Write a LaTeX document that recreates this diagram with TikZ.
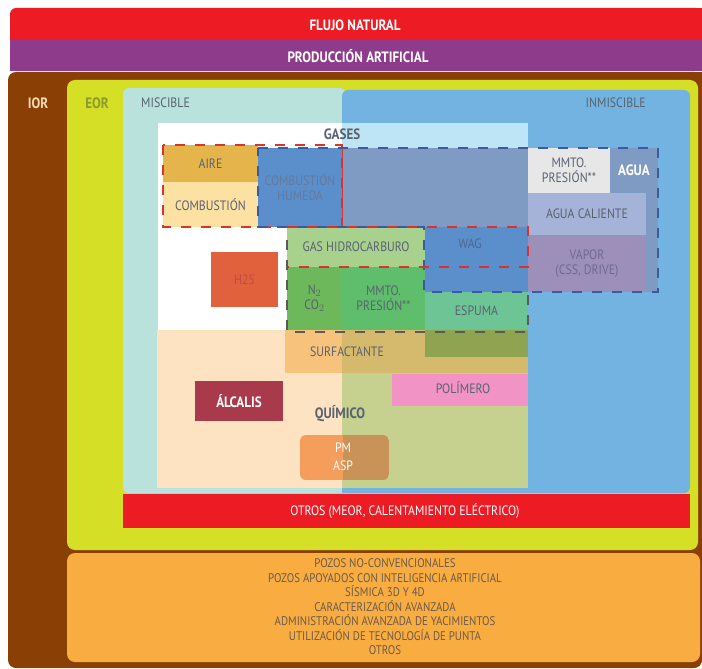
\documentclass[tikz,border=0pt]{standalone}
\usepackage{fontspec}
\setmainfont{PT Sans}[FakeStretch=0.87]
\begin{document}
\begin{tikzpicture}[x=1pt,y=-1pt,
  lbl/.style={inner sep=0pt, font=\fontsize{13.6}{15}\selectfont, text=cTxt, align=center},
  bl/.style={inner sep=0pt, font=\bfseries\fontsize{15}{16}\selectfont, align=center},
  blk/.style={anchor=north west, inner sep=0pt, outer sep=0pt, draw=none, font=\fontsize{13.6}{15}\selectfont, text=cTxt, align=center},
  rdash/.style={draw=cRedD, line width=1.4pt, dash pattern=on 10pt off 10pt},
  bdash/.style={draw=cBlueD, line width=1.4pt, dash pattern=on 10pt off 10pt},
  gdash/.style={draw=cGrayD, line width=1.4pt, dash pattern=on 10pt off 10pt}]
\definecolor{cRed}{HTML}{ED1C24}
\definecolor{cPurple}{HTML}{8E3B8B}
\definecolor{cBrown}{HTML}{8A4004}
\definecolor{cYel}{HTML}{D5DF26}
\definecolor{cTeal}{HTML}{B9E2DC}
\definecolor{cBlue}{HTML}{73B3E1}
\definecolor{cOrange}{HTML}{F9AC40}
\definecolor{cTxt}{HTML}{5A6270}
\definecolor{cLtBlue}{HTML}{BDE5F6}
\definecolor{cAire}{HTML}{E5B54C}
\definecolor{cComb}{HTML}{FDE1A2}
\definecolor{cHum}{HTML}{5A8FCB}
\definecolor{cGB}{HTML}{7F9BC4}
\definecolor{cMmto}{HTML}{E7E7E8}
\definecolor{cAguaC}{HTML}{A6B3D8}
\definecolor{cVapor}{HTML}{9C90BA}
\definecolor{cGasH}{HTML}{A9D18E}
\definecolor{cN}{HTML}{6CB85A}
\definecolor{cMmtoG}{HTML}{5EBE6C}
\definecolor{cEsp}{HTML}{6DC596}
\definecolor{cH}{HTML}{E0613C}
\definecolor{cPeach}{HTML}{FDE3C2}
\definecolor{cOlive}{HTML}{C6D190}
\definecolor{cSurfL}{HTML}{F7C27B}
\definecolor{cSurfR}{HTML}{D5B96C}
\definecolor{cDkOl}{HTML}{8FA450}
\definecolor{cPink}{HTML}{F194C5}
\definecolor{cAlc}{HTML}{A83A4B}
\definecolor{cPmL}{HTML}{F59D5B}
\definecolor{cPmR}{HTML}{C99358}
\definecolor{cRedD}{HTML}{D9342B}
\definecolor{cBlueD}{HTML}{3A5C9E}
\definecolor{cGrayD}{HTML}{5A5A5A}
\definecolor{cIOR}{HTML}{F6D9B8}
\definecolor{cEOR}{HTML}{8B9A2C}
\definecolor{cList}{HTML}{6A5B4E}
\definecolor{cHumT}{HTML}{66799C}
\definecolor{cWagT}{HTML}{4E6690}
\definecolor{cVapT}{HTML}{6E6A8E}

\useasboundingbox (0,0) rectangle (702,669);
\fill[white] (0,0) rectangle (702,669);

% outer bands
\fill[cRed, rounded corners=6pt] (10,8) rectangle (702,40);
\fill[cRed] (30,8) rectangle (702,40);
\fill[cRed] (10,20) rectangle (30,40);
\fill[cPurple] (10,40) rectangle (702,71);
\fill[cBrown, rounded corners=8pt] (8,72) rectangle (702,668);
\fill[cBrown] (30,72) rectangle (702,90);
\fill[cYel, rounded corners=8pt] (67,80) rectangle (698,550);
\fill[cTeal, rounded corners=6pt] (123,88) rectangle (346,493);
\fill[cBlue, rounded corners=6pt] (342,90) rectangle (690,493);
\fill[cBlue] (342,110) rectangle (360,493);
\fill[cOrange, rounded corners=8pt] (67,553) rectangle (700,662);

\node[bl, text=white] (flujo) at (355,25) {FLUJO NATURAL};
\node[bl, text=white] (prod) at (358,56) {PRODUCCIÓN ARTIFICIAL};
\node[bl, text=cIOR] (ior) at (38,103) {IOR};
\node[bl, text=cEOR] (eor) at (97,103) {EOR};
\node[lbl, anchor=west] (misc) at (141,103) {MISCIBLE};
\node[lbl, anchor=east] (inmisc) at (646,103) {INMISCIBLE};

% gases frame
\fill[white] (158,123) rectangle (342,330);
\fill[cLtBlue] (342,123) rectangle (528,148);
\node[bl, text=cTxt] (gases) at (342,134) {GASES};

% quimico area
\fill[cPeach] (157,330) rectangle (342,488);
\fill[cOlive] (342,330) rectangle (528,488);

% gas boxes
\node[blk, fill=cAire, minimum width=95pt, minimum height=37pt] (aire) at (163,145) {AIRE};
\node[blk, fill=cComb, minimum width=95pt, minimum height=45pt] (comb) at (163,182) {COMBUSTIÓN};
\node[blk, fill=cHum, text=cHumT, minimum width=84pt, minimum height=79pt] (hum) at (258,148) {COMBUSTIÓN\\HUMEDA};
\node[blk, fill=cGB, minimum width=186pt, minimum height=79pt] (gb) at (342,148) {};
\node[blk, fill=cGB, minimum width=130pt, minimum height=144pt] (agua) at (528,148) {};
\node[blk, fill=cMmto, minimum width=82pt, minimum height=45pt] (mmto) at (528,148) {MMTO.\\PRESIÓN**};
\node[bl, text=white] (agualbl) at (634,170) {AGUA};
\node[blk, fill=cAguaC, minimum width=118pt, minimum height=42pt] (aguac) at (528,193) {AGUA CALIENTE};
\node[blk, fill=cVapor, text=cVapT, minimum width=118pt, minimum height=57pt] (vapor) at (528,235) {VAPOR\\(CSS, DRIVE)};

\node[blk, fill=cGasH, minimum width=138pt, minimum height=40pt] (gash) at (287,227) {GAS HIDROCARBURO};
\node[blk, fill=cHum, minimum width=103pt, minimum height=65pt] (wagb) at (425,227) {};
\node[lbl, text=cWagT] (wag) at (470,244) {WAG};
\node[blk, fill=cN, minimum width=55pt, minimum height=63pt] (n2) at (287,267) {N$_2$\\CO$_2$};
\node[blk, fill=cMmtoG, minimum width=83pt, minimum height=63pt] (mmtog) at (342,267) {MMTO.\\PRESIÓN**};
\node[blk, fill=cEsp, minimum width=103pt, minimum height=38pt] (esp) at (425,292) {ESPUMA};
\node[blk, fill=cH, text=cAlc!55!cH, minimum width=67pt, minimum height=55pt] (h2s) at (211,252) {H25};

% quimico boxes
\fill[cSurfL] (285,330) rectangle (342,373);
\fill[cSurfR] (342,330) rectangle (528,373);
\fill[cDkOl] (425,330) rectangle (528,357);
\node[lbl] (surf) at (347,352) {SURFACTANTE};
\node[blk, fill=cPink, minimum width=136pt, minimum height=32pt] (pol) at (392,374) {};
\node[lbl] (pollbl) at (463,388) {POLÍMERO};
\node[blk, fill=cAlc, text=white, font=\bfseries\fontsize{15}{16}\selectfont, minimum width=88pt, minimum height=40pt] (alc) at (195,381) {ÁLCALIS};
\node[bl, text=cTxt] (quim) at (340,414) {QUÍMICO};
\begin{scope}
\clip[rounded corners=6pt] (300,435) rectangle (389,480);
\fill[cPmL] (300,435) rectangle (343,480);
\fill[cPmR] (343,435) rectangle (389,480);
\end{scope}
\node[lbl, text=white, font=\fontsize{13.6}{18}\selectfont] (pm) at (343,457) {PM\\ASP};

% dashed outlines
\draw[rdash] (163,145) rectangle (342,227);
\draw[cRedD, line width=1pt] (342,148) -- (342,227);
\draw[bdash] (258,148) -- (658,148) -- (658,292) -- (424,292) -- (424,227) -- (258,227) -- cycle;
\draw[rdash] (287,227) -- (528,227) -- (528,267) -- (287,267);
\draw[gdash] (287,240) -- (287,332) -- (528,332) -- (528,292);

% otros bar
\fill[cRed] (123,494) rectangle (690,528);
\node[lbl, text=white] (otros) at (405,511) {OTROS (MEOR, CALENTAMIENTO ELÉCTRICO)};

% bottom list
\node[lbl, text=cList, font=\fontsize{12.5}{14.5}\selectfont] (lista) at (385,607) {POZOS NO-CONVENCIONALES\\POZOS APOYADOS CON INTELIGENCIA ARTIFICIAL\\SÍSMICA 3D Y 4D\\CARACTERIZACIÓN AVANZADA\\ADMINISTRACIÓN AVANZADA DE YACIMIENTOS\\UTILIZACIÓN DE TECNOLOGÍA DE PUNTA\\OTROS};
\end{tikzpicture}
\end{document}
